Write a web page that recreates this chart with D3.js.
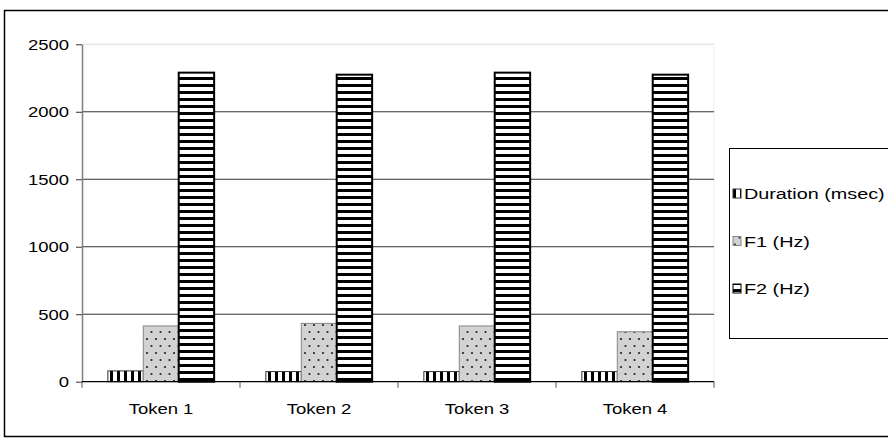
<!DOCTYPE html>
<html>
<head>
<meta charset="utf-8">
<script src="https://cdn.jsdelivr.net/npm/d3@7"></script>
<style>
  body { margin: 0; background: #fff; }
  text { font-family: "Liberation Sans", Arial, sans-serif; fill: #000; }
</style>
</head>
<body>
<div id="chart"></div>
<script>
var categories = ["Token 1", "Token 2", "Token 3", "Token 4"];
var seriesNames = ["Duration (msec)", "F1 (Hz)", "F2 (Hz)"];
var duration = [80, 75, 75, 75];
var f1 = [413, 432, 413, 370];
var f2 = [2290, 2275, 2290, 2275];
var yTicks = [0, 500, 1000, 1500, 2000, 2500];

var W = 888, H = 443;
var plot = {left: 82, right: 714, top: 44.3, bottom: 381.7};
var stretch = 1.32; // labels in the picture are drawn wide
var fills = ["url(#vstripe)", "url(#dots)", "url(#hstripe)"];
var strokes = ["#333", "#888", "#000"];
var strokeW = [1, 1, 2];

var values = [duration, f1, f2];
var data = categories.map(function(c, i){
    return {cat: c, vals: seriesNames.map(function(s, j){ return {series: s, idx: j, v: values[j][i]}; })};
});

var svg = d3.select("#chart").append("svg")
            .attr("width", W).attr("height", H);

var defs = svg.append("defs");

var p1 = defs.append("pattern").attr("id", "vstripe")
             .attr("patternUnits", "userSpaceOnUse").attr("width", 7).attr("height", 7);
p1.append("rect").attr("width", 7).attr("height", 7).attr("fill", "#fff");
p1.append("rect").attr("width", 3).attr("height", 7).attr("fill", "#000");

var p2 = defs.append("pattern").attr("id", "hstripe")
             .attr("patternUnits", "userSpaceOnUse").attr("width", 7).attr("height", 7);
p2.append("rect").attr("width", 7).attr("height", 7).attr("fill", "#fff");
p2.append("rect").attr("width", 7).attr("height", 3).attr("fill", "#000");

var p3 = defs.append("pattern").attr("id", "dots")
             .attr("patternUnits", "userSpaceOnUse").attr("width", 9).attr("height", 14);
p3.append("rect").attr("width", 9).attr("height", 14).attr("fill", "#d2d2d2");
p3.append("circle").attr("cx", 2).attr("cy", 3).attr("r", 1.1).attr("fill", "#222");
p3.append("circle").attr("cx", 6.5).attr("cy", 10).attr("r", 1.1).attr("fill", "#222");

// outer frame
svg.append("rect")
   .attr("x", 4.5).attr("y", 10.5).attr("width", 900).attr("height", 426)
   .attr("fill", "none").attr("stroke", "#000").attr("stroke-width", 1.5);

var x = d3.scaleBand().domain(categories).range([plot.left, plot.right]);
var x1 = d3.scaleBand().domain(seriesNames).range([0, x.bandwidth()]).paddingOuter(0.73);
var y = d3.scaleLinear().domain([0, 2500]).range([plot.bottom, plot.top]);

// plot area right edge
svg.append("line")
   .attr("x1", plot.right).attr("x2", plot.right)
   .attr("y1", plot.top).attr("y2", plot.bottom)
   .attr("stroke", "#eee");

// gridlines
svg.append("g").selectAll("line").data(yTicks.filter(function(d){ return d > 0; }))
   .enter().append("line")
   .attr("x1", plot.left).attr("x2", plot.right)
   .attr("y1", function(d){ return y(d); }).attr("y2", function(d){ return y(d); })
   .attr("stroke", function(d){ return d == 2500 ? "#ddd" : "#333"; })
   .attr("stroke-width", 1);

// bars
var groups = svg.append("g").selectAll("g").data(data).enter().append("g")
                .attr("transform", function(d){ return "translate(" + x(d.cat) + ",0)"; });

groups.selectAll("rect").data(function(d){ return d.vals; }).enter().append("rect")
      .attr("x", function(d){ return x1(d.series); })
      .attr("y", function(d){ return y(d.v); })
      .attr("width", x1.bandwidth())
      .attr("height", function(d){ return plot.bottom - y(d.v); })
      .attr("fill", function(d){ return fills[d.idx]; })
      .attr("stroke", function(d){ return strokes[d.idx]; })
      .attr("stroke-width", function(d){ return strokeW[d.idx]; });

// y axis
var yAxis = svg.append("g")
               .attr("transform", "translate(" + plot.left + ",0)")
               .call(d3.axisLeft(y).tickValues(yTicks).tickFormat(d3.format("d")).tickSize(6).tickSizeOuter(0));
yAxis.select(".domain").attr("stroke", "#808080").attr("stroke-width", 1.5);
yAxis.selectAll(".tick line").attr("stroke", "#333");
yAxis.selectAll(".tick text")
     .attr("x", 0).attr("dy", null)
     .attr("transform", "translate(-13,5) scale(" + stretch + ",1)")
     .style("font-size", "14px").attr("fill", "#000");

// x axis
var xAxis = svg.append("g")
               .attr("transform", "translate(0," + plot.bottom + ")");
xAxis.append("line")
     .attr("x1", plot.left).attr("x2", plot.right)
     .attr("stroke", "#000").attr("stroke-width", 1.2);
xAxis.selectAll(".xtick").data(categories.concat(["end"])).enter().append("line")
     .attr("x1", function(d, i){ return plot.left + i * x.step(); })
     .attr("x2", function(d, i){ return plot.left + i * x.step(); })
     .attr("y1", 0).attr("y2", 6)
     .attr("stroke", "#555");
xAxis.selectAll(".xlabel").data(categories).enter().append("text")
     .attr("text-anchor", "middle")
     .attr("transform", function(d){ return "translate(" + (x(d) + x.bandwidth() / 2) + ",32) scale(" + stretch + ",1)"; })
     .style("font-size", "14px")
     .text(function(d){ return d; });

// legend
var legend = svg.append("g");
legend.append("rect")
      .attr("x", 729.5).attr("y", 148.5).attr("width", 200).attr("height", 190)
      .attr("fill", "#fff").attr("stroke", "#000").attr("stroke-width", 1);

var items = legend.selectAll(".item").data(seriesNames).enter().append("g")
                  .attr("transform", function(d, i){ return "translate(733," + (194 + i * 47.5) + ")"; });
items.append("rect")
     .attr("x", 0).attr("y", -5).attr("width", 8).attr("height", 9)
     .attr("fill", function(d, i){ return fills[i]; })
     .attr("stroke", function(d, i){ return strokes[i]; })
     .attr("stroke-width", 1);
items.append("text")
     .attr("transform", "translate(11,5) scale(" + stretch + ",1)")
     .style("font-size", "15px")
     .text(function(d){ return d; });
</script>
</body>
</html>
